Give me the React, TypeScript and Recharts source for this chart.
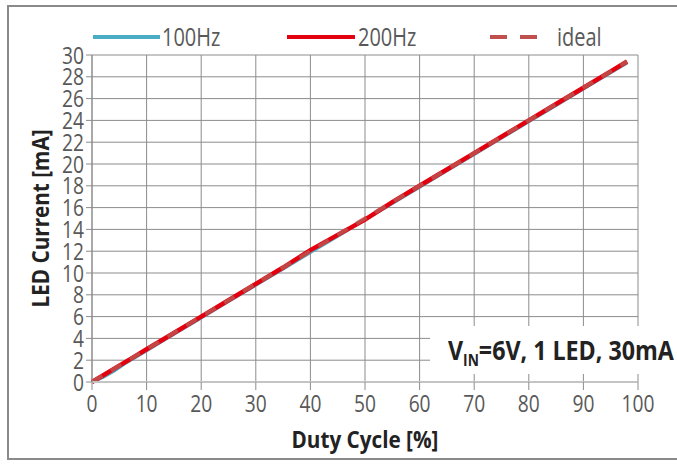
import { LineChart, Line, XAxis, YAxis, CartesianGrid, Legend, Label } from "recharts";

const duty = [0, 2, 4, 6, 8, 10, 15, 20, 25, 30, 35, 40, 45, 50, 55, 60, 65, 70, 75, 80, 85, 90, 95, 98];
const current100Hz = [0, 0.45, 1.0, 1.7, 2.3, 2.9, 4.4, 5.9, 7.4, 8.9, 10.4, 11.9, 13.4, 14.9, 16.4, 17.9, 19.4, 20.9, 22.4, 23.9, 25.4, 26.9, 28.4, 29.3];
const current200Hz = [0, 0.6, 1.2, 1.8, 2.4, 3.0, 4.5, 6.0, 7.5, 9.0, 10.5, 12.1, 13.5, 14.9, 16.5, 18.0, 19.5, 21.0, 22.5, 24.0, 25.5, 27.0, 28.5, 29.4];
const currentIdeal = [0, 0.6, 1.2, 1.8, 2.4, 3.0, 4.5, 6.0, 7.5, 9.0, 10.5, 12.0, 13.5, 15.0, 16.5, 18.0, 19.5, 21.0, 22.5, 24.0, 25.5, 27.0, 28.5, 29.4];

const xTicks = [0, 10, 20, 30, 40, 50, 60, 70, 80, 90, 100];
const yTicks = [0, 2, 4, 6, 8, 10, 12, 14, 16, 18, 20, 22, 24, 26, 28, 30];

const FONT = "'Open Sans', sans-serif";
const GRID = "#8c8c8c";
const SQUEEZE = 0.8; // the original uses a tall narrow font

const data = duty.map((d, i) => ({
  duty: d,
  hz100: current100Hz[i],
  hz200: current200Hz[i],
  ideal: currentIdeal[i],
}));

function NarrowText({ x, y, anchor, children, size = 24, bold = false, fill = "#595959", dy = "0" }: any) {
  return (
    <text
      x={0}
      y={0}
      dy={dy}
      transform={`translate(${x},${y}) scale(${SQUEEZE},1)`}
      textAnchor={anchor}
      fontFamily={FONT}
      fontSize={size}
      fontWeight={bold ? "bold" : "normal"}
      fill={fill}
    >
      {children}
    </text>
  );
}

function XTick({ x, y, payload }: any) {
  return <NarrowText x={x} y={y} anchor="middle" dy="0.71em">{payload.value}</NarrowText>;
}

function YTick({ x, y, payload }: any) {
  return <NarrowText x={x} y={y} anchor="end" dy="0.355em">{payload.value}</NarrowText>;
}

// legend drawn by hand so the items sit where the original has them
function ChartLegend() {
  return (
    <svg width={677} height={36}>
      <line x1={93} x2={160} y1={16} y2={16} stroke="#4bacc6" strokeWidth={4} />
      <NarrowText x={162} y={25} anchor="start" size={25}>100Hz</NarrowText>
      <line x1={287} x2={355} y1={16} y2={16} stroke="#e3000f" strokeWidth={4} />
      <NarrowText x={358} y={25} anchor="start" size={25}>200Hz</NarrowText>
      <line x1={490} x2={537} y1={16} y2={16} stroke="#c0504d" strokeWidth={4} strokeDasharray="17 13" />
      <NarrowText x={557} y={25} anchor="start" size={25}>ideal</NarrowText>
    </svg>
  );
}

function YTitle({ viewBox }: any) {
  const cy = viewBox.y + viewBox.height / 2;
  return (
    <text
      x={0}
      y={0}
      transform={`translate(40, ${cy}) rotate(-90) scale(0.9,1)`}
      textAnchor="middle"
      dominantBaseline="central"
      fontFamily={FONT}
      fontWeight="bold"
      fontSize={23}
      fill="#222"
    >
      LED Current [mA]
    </text>
  );
}

function XTitle({ viewBox }: any) {
  const cx = viewBox.x + viewBox.width / 2;
  return (
    <text
      x={0}
      y={0}
      transform={`translate(${cx}, 448) scale(0.9,1)`}
      textAnchor="middle"
      fontFamily={FONT}
      fontWeight="bold"
      fontSize={23}
      fill="#222"
    >
      Duty Cycle [%]
    </text>
  );
}

export default function App() {
  return (
    <div style={{ position: "absolute", left: 0, top: 0, width: 677, height: 464, background: "#fff", overflow: "hidden" }}>
      <div style={{ position: "absolute", left: 57, top: -35, fontFamily: FONT, fontWeight: "bold", fontSize: 27, color: "#000" }}>
        Figure
      </div>
      <div style={{ position: "absolute", left: 7, top: 5, width: 690, height: 455, border: "2px solid #8a8a8a", boxSizing: "border-box" }} />
      <LineChart width={677} height={464} data={data} margin={{ top: 55, right: 39, bottom: 12, left: 0 }}>
        <CartesianGrid stroke={GRID} strokeWidth={1} />
        <XAxis
          dataKey="duty"
          type="number"
          domain={[0, 100]}
          ticks={xTicks}
          interval={0}
          height={70}
          axisLine={{ stroke: "#c4c4c4", strokeWidth: 2 }}
          tickLine={{ stroke: GRID }}
          tickSize={8}
          tickMargin={5}
          tick={XTick}
        >
          <Label content={XTitle} />
        </XAxis>
        <YAxis
          type="number"
          domain={[0, 30]}
          ticks={yTicks}
          interval={0}
          width={92}
          axisLine={{ stroke: GRID }}
          tickLine={{ stroke: GRID }}
          tickSize={6}
          tickMargin={2}
          tick={YTick}
        >
          <Label content={YTitle} />
        </YAxis>
        <Legend
          layout="horizontal"
          verticalAlign="middle"
          align="center"
          wrapperStyle={{ top: 21, left: 0, width: 677 }}
          content={ChartLegend}
        />
        <Line type="linear" dataKey="hz100" name="100Hz" stroke="#4bacc6" strokeWidth={3.5} dot={false} isAnimationActive={false} />
        <Line type="linear" dataKey="hz200" name="200Hz" stroke="#e3000f" strokeWidth={4.5} dot={false} isAnimationActive={false} />
        <Line
          type="linear"
          dataKey="ideal"
          name="ideal"
          stroke="#c0504d"
          strokeOpacity={0.85}
          strokeWidth={4}
          strokeDasharray="12 10"
          dot={false}
          isAnimationActive={false}
        />
      </LineChart>
      <div
        style={{
          position: "absolute",
          left: 430,
          top: 326,
          width: 260,
          height: 48,
          background: "#fff",
          boxSizing: "border-box",
        }}
      >
        <div
          style={{
            position: "absolute",
            left: 18,
            top: 5,
            fontFamily: FONT,
            fontWeight: "bold",
            fontSize: 27,
            color: "#222",
            whiteSpace: "nowrap",
            transform: "scale(0.86,1)",
            transformOrigin: "left top",
          }}
        >
          V<sub style={{ fontSize: 16 }}>IN</sub>=6V, 1 LED, 30mA
        </div>
      </div>
    </div>
  );
}
